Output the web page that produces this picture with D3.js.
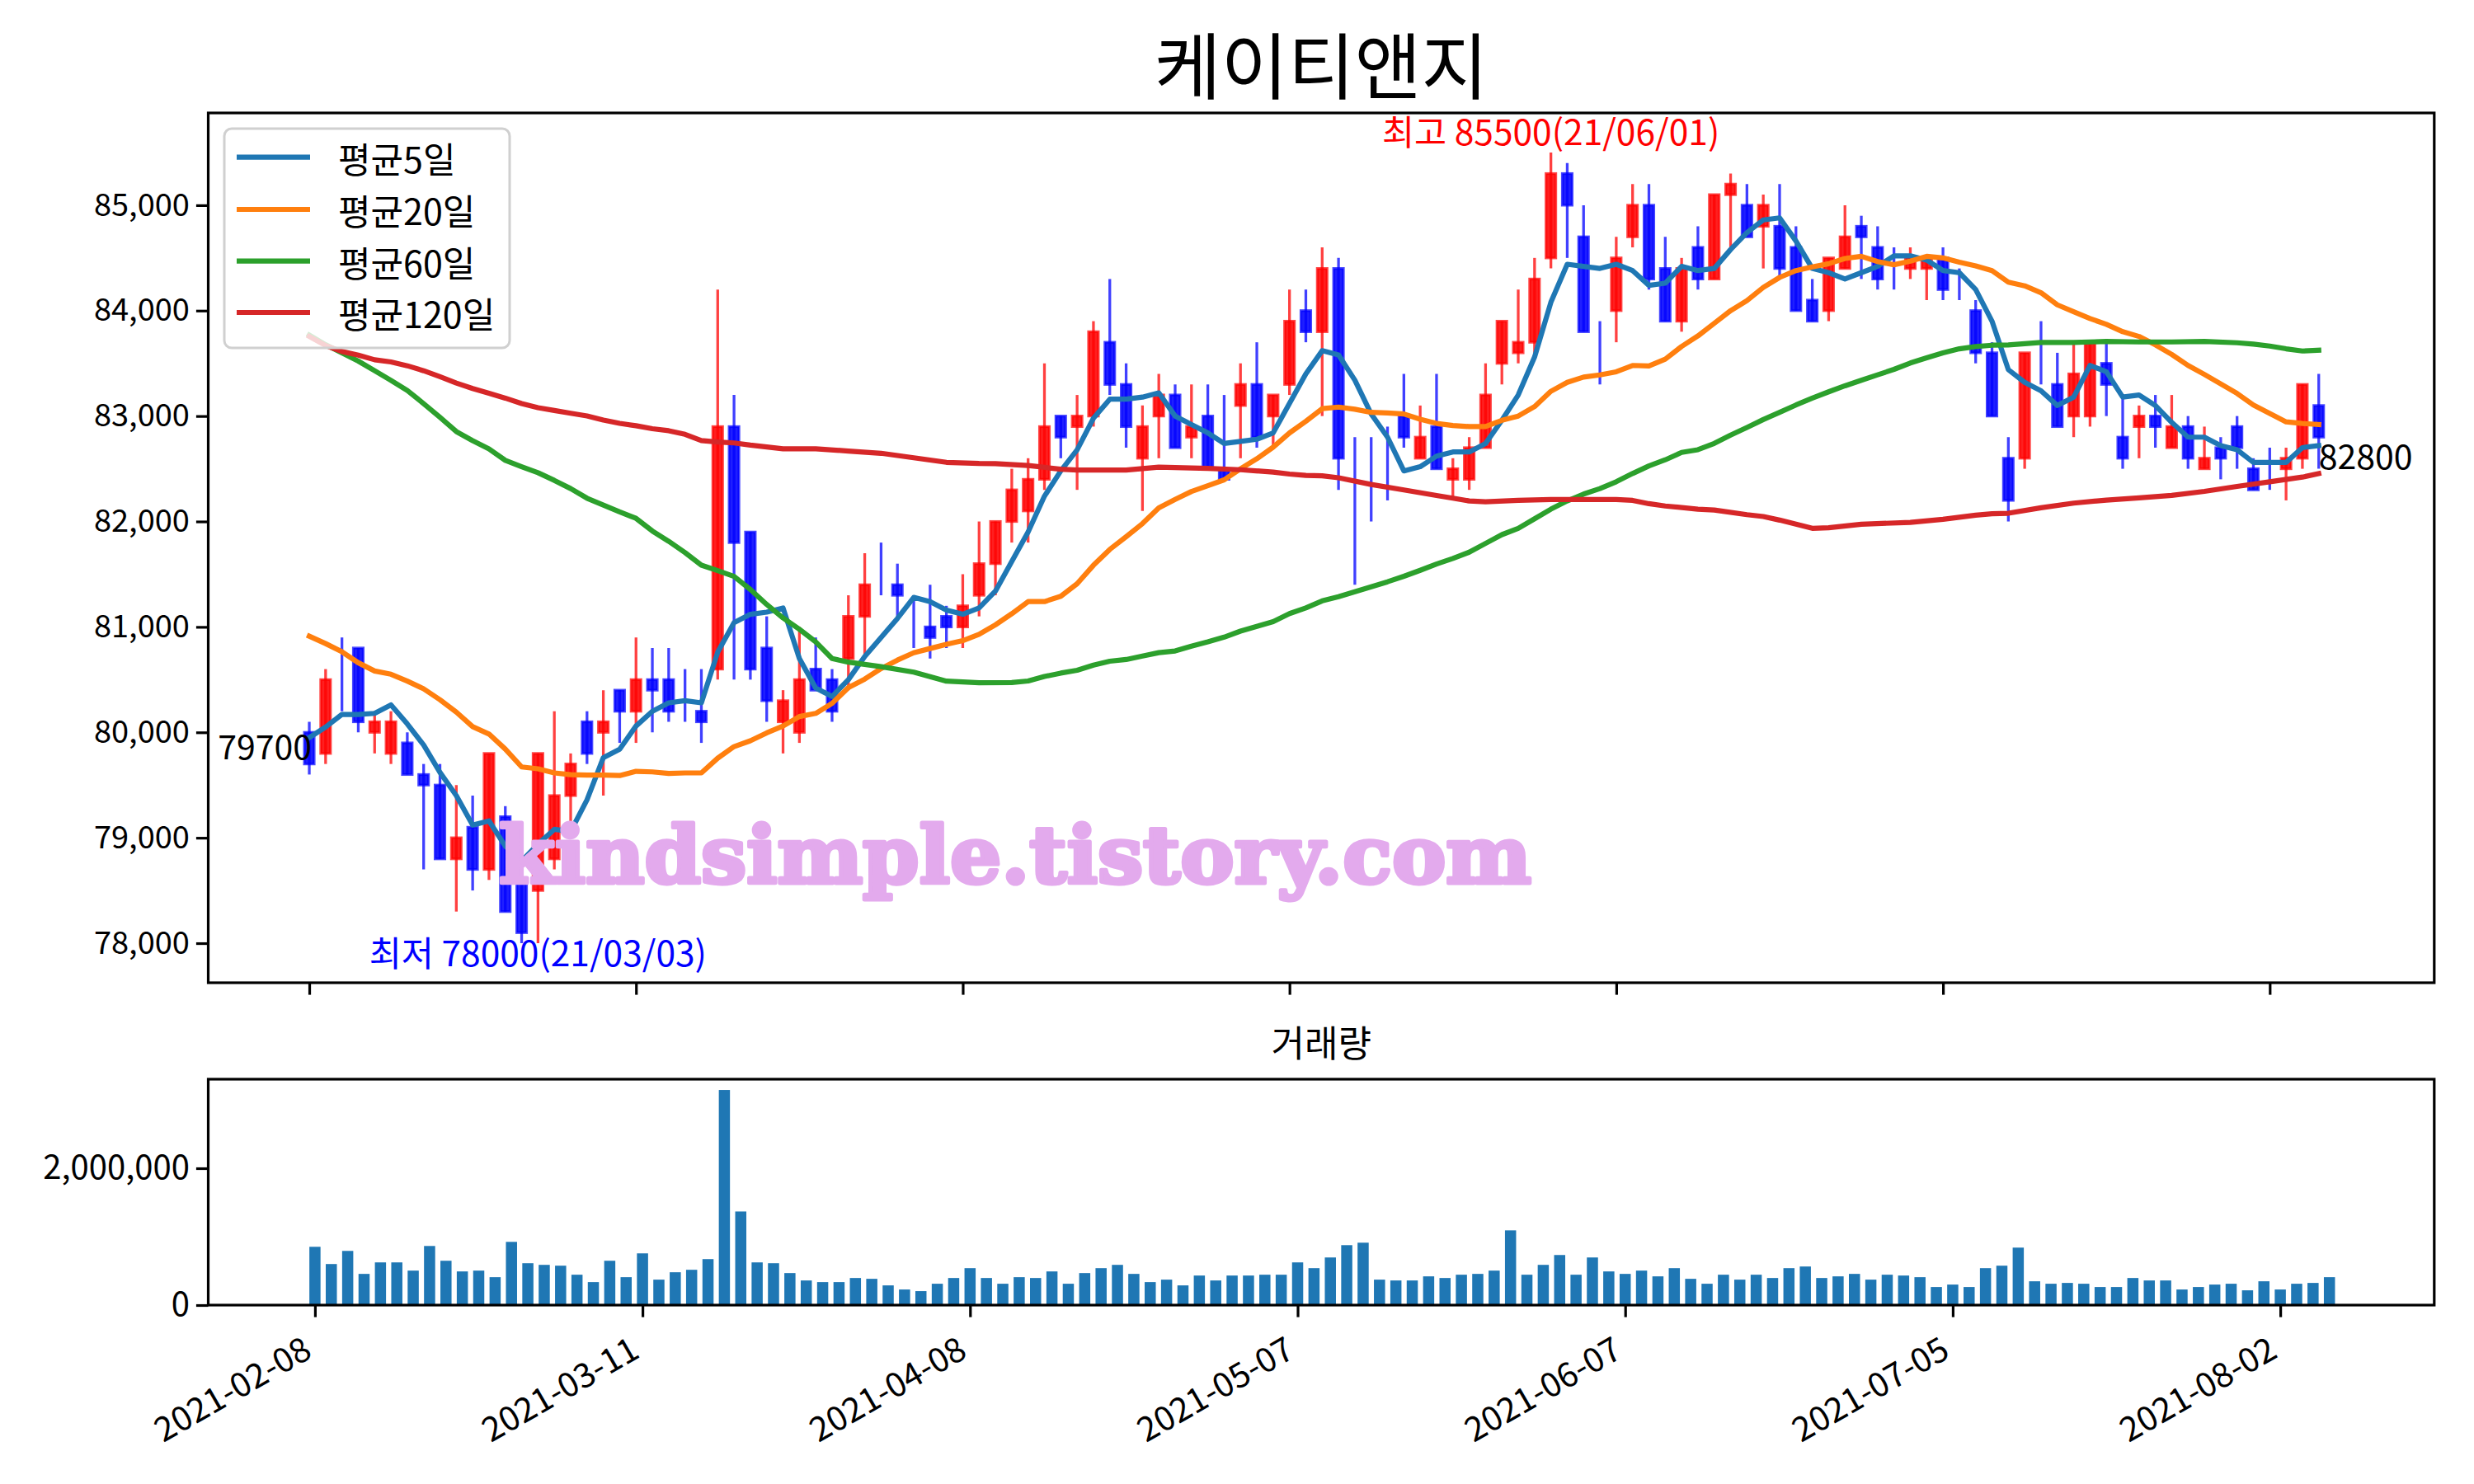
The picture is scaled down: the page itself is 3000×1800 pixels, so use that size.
<!DOCTYPE html>
<html><head><meta charset="utf-8">
<script src="https://cdn.jsdelivr.net/npm/d3@7"></script>
<style>body{margin:0;background:#fff;}</style>
</head><body><svg id="c" width="3000" height="1800" xmlns="http://www.w3.org/2000/svg"></svg>
<script>
const chartTitle = "케이티앤지";
const volTitle = "거래량";
const legendLabels = ["평균5일","평균20일","평균60일","평균120일"];
const legendColors = ["#1f77b4","#ff7f0e","#2ca02c","#d62728"];
const tickIdx = [0,20,40,60,80,100,120];
const tickLabels = ["2021-02-08","2021-03-11","2021-04-08","2021-05-07","2021-06-07","2021-07-05","2021-08-02"];
const yTicksPrice = [78000,79000,80000,81000,82000,83000,84000,85000];
const yTicksVol = [0,2000000];

const opens = [80000,79800,80500,80800,80000,79800,79900,79600,79500,78800,
79100,78700,79200,78600,78500,78800,79400,80100,80000,80400,
80200,80500,80500,80200,80200,80600,82900,81900,80800,80100,
80000,80600,80500,80700,81100,81400,81400,81200,81000,81100,
81000,81300,81600,82000,82100,82400,83000,82900,83000,83700,
83300,82600,83000,83200,82800,83000,82500,83100,83300,83000,
83300,84000,83800,84400,82000,82300,82700,83000,82600,82900,
82400,82400,82700,83500,83600,83700,84500,85300,84700,83600,
84000,84700,85000,84400,83900,84600,84300,85100,85000,84800,
84800,84600,84100,84000,84400,84800,84600,84400,84400,84400,
84500,84200,84000,83600,82600,82600,83800,83300,83000,83000,
83500,82800,82900,83000,82700,82900,82500,82700,82900,82500,
82600,82500,82600,83100];
const highs = [80100,80600,80900,80800,80200,80200,80000,79700,79700,79500,
79400,79800,79300,79000,79800,80200,79800,80200,80400,80400,
80900,80800,80800,80600,80600,84200,83200,81900,81100,80400,
81000,80900,80600,81300,81700,81800,81600,81300,81400,81200,
81500,82000,82000,82500,82600,83500,83000,83200,83900,84300,
83500,83100,83400,83300,83300,83300,83200,83500,83700,83200,
84200,84200,84600,84500,82800,82800,82900,83400,83100,83400,
82600,82800,83500,83900,84200,84500,85500,85400,85000,83900,
84700,85200,85200,84700,84500,84800,85100,85300,85200,85100,
85200,84800,84300,84500,85000,84900,84800,84600,84600,84500,
84600,84400,84100,83700,82800,83600,83900,83600,83700,83700,
83700,83200,83100,83200,83200,83000,82900,82800,83000,82600,
82700,82700,83300,83400];
const lows = [79600,79700,80200,80000,79800,79700,79600,78700,78800,78300,
78500,78600,78300,78000,78000,78700,79100,79700,79400,79900,
79900,80000,80100,80100,79900,80500,80500,80500,80100,79800,
79900,80400,80100,80400,80700,81300,81100,80800,80700,80800,
80800,81100,81300,81800,81800,82300,82600,82300,82900,83200,
82700,82100,82600,82700,82600,82500,82400,82600,82700,82700,
83200,83700,83000,82300,81400,82000,82200,82700,82600,82500,
82200,82300,82700,83300,83500,83600,84400,84500,83800,83300,
83700,84600,84200,83900,83800,84200,84300,84600,84700,84400,
84300,84000,83900,83900,84400,84300,84200,84200,84300,84100,
84100,84100,83500,83000,82000,82500,83300,82900,82800,82900,
83000,82500,82600,82700,82700,82500,82500,82400,82500,82300,
82300,82200,82500,82500];
const closes = [79700,80500,80500,80100,80100,80100,79600,79500,78800,79000,
78700,79800,78300,78100,79800,79400,79700,79800,80100,80200,
80500,80400,80200,80200,80100,82900,81800,80600,80300,80300,
80500,80400,80200,81100,81400,81400,81300,81200,80900,81000,
81200,81600,82000,82300,82400,82900,82800,83000,83800,83300,
82900,82900,83200,82700,82900,82500,82400,83300,82800,83200,
83900,83800,84400,82600,82000,82300,82700,82800,82800,82500,
82500,82700,83200,83900,83700,84300,85300,85000,83800,83600,
84500,85000,84300,83900,84400,84300,85100,85200,84700,85000,
84400,84000,83900,84500,84700,84700,84300,84400,84500,84500,
84200,84200,83600,83000,82200,83600,83800,82900,83400,83700,
83300,82600,83000,82900,82900,82600,82600,82600,82700,82300,
82600,82600,83300,82800];
const volumes = [852000,600000,792000,456000,624000,624000,504000,864000,648000,492000,
504000,408000,924000,612000,588000,576000,444000,336000,648000,408000,
756000,372000,480000,516000,672000,3144000,1368000,624000,612000,468000,
360000,336000,336000,396000,384000,288000,228000,204000,312000,396000,
540000,396000,312000,408000,396000,492000,312000,468000,540000,588000,
456000,336000,372000,288000,432000,360000,432000,432000,444000,444000,
624000,540000,696000,876000,912000,372000,360000,360000,420000,396000,
444000,456000,504000,1092000,444000,588000,732000,444000,696000,492000,
456000,504000,420000,540000,384000,312000,444000,372000,444000,396000,
540000,564000,396000,420000,456000,372000,444000,432000,408000,264000,
300000,264000,540000,576000,840000,348000,312000,324000,312000,264000,
264000,396000,360000,360000,228000,264000,300000,312000,216000,348000,
228000,312000,324000,408000];

const ma5 = [79950,80050,80170,80170,80180,80260,80080,79880,79620,79400,
79120,79160,78920,78780,78940,79080,79060,79360,79760,79840,
80060,80200,80280,80300,80280,80760,81040,81120,81140,81180,
80700,80420,80340,80500,80720,80900,81080,81280,81240,81160,
81120,81180,81340,81620,81900,82240,82480,82680,82980,83160,
83160,83180,83220,83000,82920,82840,82740,82760,82780,82840,
83120,83400,83620,83580,83340,83020,82800,82480,82520,82620,
82660,82660,82740,82960,83200,83560,84080,84440,84420,84400,
84440,84380,84240,84260,84420,84380,84400,84580,84740,84860,
84880,84660,84400,84360,84300,84360,84420,84520,84520,84480,
84380,84360,84200,83900,83440,83320,83240,83100,83180,83480,
83420,83180,83200,83100,82940,82800,82800,82720,82680,82560,
82560,82560,82700,82720];
const ma20 = [80912,80842,80764,80660,80582,80551,80486,80413,80309,80192,
80054,79984,79841,79672,79654,79615,79599,79594,79594,79590,
79630,79625,79610,79615,79615,79755,79865,79920,79995,80060,
80150,80180,80275,80425,80505,80605,80685,80755,80795,80835,
80870,80930,81020,81125,81240,81240,81290,81410,81585,81735,
81855,81980,82130,82210,82285,82340,82395,82500,82595,82705,
82840,82950,83070,83085,83065,83035,83030,83020,82970,82930,
82910,82900,82900,82960,83000,83090,83235,83320,83370,83390,
83420,83480,83475,83540,83660,83760,83880,84000,84095,84220,
84315,84380,84415,84445,84495,84515,84465,84435,84470,84515,
84500,84460,84425,84380,84270,84235,84170,84055,83990,83925,
83870,83800,83755,83675,83585,83480,83395,83305,83215,83105,
83025,82945,82930,82920];
// [day index, value] readings
const ma60 = [[0,83768],[1,83677],[2,83599],[3,83521],[4,83430],[5,83339],[6,83243],[7,83118],[8,82988],[9,82853],
[10,82767],[11,82689],[12,82580],[13,82520],[14,82463],[15,82390],[16,82312],[17,82221],[18,82156],[19,82091],
[20,82030],[21,81910],[22,81812],[23,81705],[24,81586],[25,81534],[26,81479],[27,81355],[28,81213],[29,81085],
[30,80978],[31,80858],[32,80700],[33,80666],[34,80644],[35,80623],[37,80571],[39,80486],[41,80470],[43,80473],
[44,80487],[45,80530],[46,80562],[47,80589],[48,80637],[49,80675],[50,80691],[51,80723],[52,80756],[53,80772],
[54,80817],[55,80858],[56,80903],[57,80960],[58,81005],[59,81050],[60,81126],[61,81180],[62,81247],[63,81287],
[66,81428],[67,81480],[68,81537],[69,81597],[70,81649],[71,81709],[72,81792],[73,81875],[74,81935],[75,82026],
[76,82117],[77,82195],[78,82260],[79,82312],[80,82377],[81,82455],[82,82527],[83,82585],[84,82655],[85,82681],
[86,82741],[87,82819],[88,82892],[89,82967],[90,83035],[91,83105],[92,83170],[93,83230],[94,83287],[95,83339],
[96,83391],[97,83443],[98,83503],[99,83552],[100,83599],[101,83638],[102,83659],[103,83672],[104,83675],[106,83698],
[108,83698],[110,83708],[112,83703],[114,83703],[116,83708],[118,83695],[119,83682],[120,83664],[121,83638],[122,83617],[123,83625]];
const ma120 = [[0,83755],[1,83669],[2,83612],[3,83578],[4,83534],[5,83513],[6,83477],[7,83430],[8,83373],[9,83313],
[10,83261],[11,83217],[12,83170],[13,83118],[14,83079],[15,83053],[16,83027],[17,83001],[18,82962],[19,82931],
[20,82908],[21,82880],[22,82861],[23,82827],[24,82767],[25,82754],[26,82745],[27,82724],[29,82690],[31,82690],
[33,82668],[35,82647],[37,82604],[39,82561],[41,82550],[42,82549],[44,82531],[46,82496],[47,82488],[50,82488],
[52,82515],[55,82504],[57,82491],[59,82469],[60,82450],[61,82437],[62,82433],[63,82415],[65,82351],[67,82299],
[69,82247],[70,82221],[71,82195],[72,82187],[74,82200],[76,82208],[78,82208],[80,82208],[81,82200],[82,82169],
[83,82147],[85,82117],[86,82109],[88,82065],[89,82047],[90,82013],[92,81935],[93,81940],[95,81974],[98,81992],
[100,82021],[102,82060],[103,82073],[104,82078],[106,82130],[108,82174],[110,82203],[112,82224],[114,82247],[116,82286],
[118,82333],[120,82377],[122,82421],[123,82455]];

const highNote = {idx:76, value:85500, text:"최고 85500(21/06/01)"};
const lowNote = {idx:14, value:78000, text:"최저 78000(21/03/03)"};
const firstClose = {idx:0, text:"79700"};
const lastClose = {idx:123, text:"82800"};
const watermark = "kindsimple.tistory.com";

// ---------- drawing ----------
const FONT = '"Noto Sans CJK KR","Noto Sans",sans-serif';
const svg = d3.select("#c");
const up = {L:252.5, R:2951.8, T:137, B:1192};
const lo = {L:252.5, R:2951.8, T:1309, B:1583};
const N = closes.length;
const days = d3.range(N);

const xU = d3.scaleLinear().domain([-6.185,130.07]).range([up.L,up.R]);
const xL = d3.scaleLinear().domain([-6.516,129.40]).range([lo.L,lo.R]);
const yU = d3.scaleLinear().domain([77625,85875]).range([up.B,up.T]);
const yL = d3.scaleLinear().domain([0,d3.max(volumes)*1.05]).range([lo.B,lo.T]);

svg.append("rect").attr("width",3000).attr("height",1800).attr("fill","#fff");
const defs = svg.append("defs");
defs.append("clipPath").attr("id","clipU").append("rect")
  .attr("x",up.L).attr("y",up.T).attr("width",up.R-up.L).attr("height",up.B-up.T);
defs.append("clipPath").attr("id","clipL").append("rect")
  .attr("x",lo.L).attr("y",lo.T).attr("width",lo.R-lo.L).attr("height",lo.B-lo.T);

// candles
const gC = svg.append("g").attr("clip-path","url(#clipU)");
days.forEach(i=>{
  const isUp = closes[i] > opens[i];
  const col = isUp ? "#ff0000" : "#0000ff";
  gC.append("line")
    .attr("x1",xU(i)).attr("x2",xU(i))
    .attr("y1",yU(highs[i])).attr("y2",yU(lows[i]))
    .attr("stroke",col).attr("stroke-opacity",0.75).attr("stroke-width",3.3);
  const t = yU(Math.max(opens[i],closes[i])), b = yU(Math.min(opens[i],closes[i]));
  gC.append("rect")
    .attr("x",xU(i-0.3)).attr("width",xU(i+0.3)-xU(i-0.3))
    .attr("y",t).attr("height",b-t)
    .attr("fill",col).attr("fill-opacity",0.88)
    .attr("stroke",col).attr("stroke-opacity",0.72).attr("stroke-width",3.2);
});

// moving averages
const lineGen = d3.line().x(d=>xU(d[0])).y(d=>yU(d[1]));
const maSeries = [ma5.map((v,i)=>[i,v]), ma20.map((v,i)=>[i,v]), ma60, ma120];
const gM = svg.append("g").attr("clip-path","url(#clipU)");
maSeries.forEach((s,k)=>{
  gM.append("path").attr("d",lineGen(s)).attr("fill","none")
    .attr("stroke",legendColors[k]).attr("stroke-width",6.2)
    .attr("stroke-linejoin","round").attr("stroke-linecap","square");
});

// watermark
svg.append("text").attr("x",605).attr("y",1071)
  .attr("font-family",'"DejaVu Serif",serif').attr("font-weight","bold")
  .attr("font-size",96).attr("fill","#e3aaed")
  .attr("stroke","#e3aaed").attr("stroke-width",5).attr("stroke-linejoin","round")
  .attr("textLength",1252).attr("lengthAdjust","spacingAndGlyphs")
  .text(watermark);

// annotations
svg.append("text").attr("x",xU(highNote.idx)).attr("y",176).attr("text-anchor","middle")
  .attr("font-family",FONT).attr("font-size",42.5).attr("fill","#ff0000").text(highNote.text);
svg.append("text").attr("x",xU(lowNote.idx)).attr("y",1172).attr("text-anchor","middle")
  .attr("font-family",FONT).attr("font-size",42.5).attr("fill","#0000ff").text(lowNote.text);
svg.append("text").attr("x",xU(firstClose.idx)+3).attr("y",921).attr("text-anchor","end")
  .attr("font-family",FONT).attr("font-size",41).attr("fill","#000").text(firstClose.text);
svg.append("text").attr("x",xU(lastClose.idx)).attr("y",569).attr("text-anchor","start")
  .attr("font-family",FONT).attr("font-size",41).attr("fill","#000").text(lastClose.text);

// legend
const lg = svg.append("g");
lg.append("rect").attr("x",272).attr("y",156).attr("width",346).attr("height",266).attr("rx",9)
  .attr("fill","#fff").attr("fill-opacity",0.8).attr("stroke","#d0d0d0").attr("stroke-width",3);
const rowY = [190.7,254,316.7,379];
legendLabels.forEach((lab,k)=>{
  lg.append("line").attr("x1",287).attr("x2",376).attr("y1",rowY[k]).attr("y2",rowY[k])
    .attr("stroke",legendColors[k]).attr("stroke-width",6.2);
  lg.append("text").attr("x",410).attr("y",rowY[k]).attr("dominant-baseline","central")
    .attr("font-family",FONT).attr("font-size",43).attr("fill","#000").text(lab);
});

// volume bars
const gV = svg.append("g").attr("clip-path","url(#clipL)");
gV.selectAll("rect").data(days).enter().append("rect")
  .attr("x",i=>xL(i-0.34)).attr("width",xL(0.34)-xL(-0.34))
  .attr("y",i=>yL(volumes[i])).attr("height",i=>yL(0)-yL(volumes[i]))
  .attr("fill","#1f77b4");

// axes
function styleAxis(g, fs){
  g.attr("font-family",FONT).attr("font-size",fs);
  g.select(".domain").remove();
  g.selectAll(".tick line").attr("stroke","#000").attr("stroke-width",3.2);
  g.selectAll(".tick text").attr("fill","#000");
}
svg.append("g").attr("transform",`translate(${up.L},0)`)
  .call(d3.axisLeft(yU).tickValues(yTicksPrice).tickFormat(d3.format(",")).tickSize(14.6).tickPadding(8))
  .call(g=>styleAxis(g,38));
svg.append("g").attr("transform",`translate(0,${up.B})`)
  .call(d3.axisBottom(xU).tickValues(tickIdx).tickFormat("").tickSize(14.6))
  .call(g=>styleAxis(g,38));
svg.append("g").attr("transform",`translate(${lo.L},0)`)
  .call(d3.axisLeft(yL).tickValues(yTicksVol).tickFormat(d3.format(",")).tickSize(14.6).tickPadding(8))
  .call(g=>styleAxis(g,40));
const xAx = svg.append("g").attr("transform",`translate(0,${lo.B})`)
  .call(d3.axisBottom(xL).tickValues(tickIdx).tickFormat((d,i)=>tickLabels[i]).tickSize(14.6))
  .call(g=>styleAxis(g,41));
xAx.selectAll(".tick text")
  .attr("y",null).attr("dy",null).attr("x",null)
  .attr("text-anchor","end")
  .attr("transform","translate(-2,62) rotate(-30)");

// spines
[up,lo].forEach(p=>{
  svg.append("rect").attr("x",p.L).attr("y",p.T).attr("width",p.R-p.L).attr("height",p.B-p.T)
    .attr("fill","none").attr("stroke","#000").attr("stroke-width",3.2);
});

// titles
svg.append("text").attr("x",(up.L+up.R)/2).attr("y",113).attr("text-anchor","middle")
  .attr("font-family",FONT).attr("font-size",88).attr("fill","#000").text(chartTitle);
svg.append("text").attr("x",(lo.L+lo.R)/2).attr("y",1282).attr("text-anchor","middle")
  .attr("font-family",FONT).attr("font-size",44).attr("fill","#000").text(volTitle);
</script>
</body></html>
